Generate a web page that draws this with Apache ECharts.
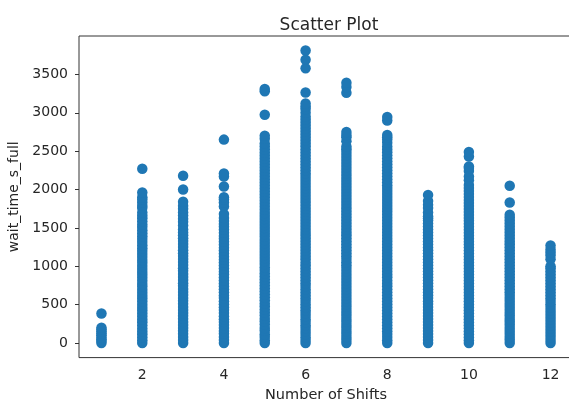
<!DOCTYPE html>
<html>
<head>
<meta charset="utf-8">
<script src="https://cdn.jsdelivr.net/npm/echarts@6/dist/echarts.min.js"></script>
<style>
  html, body { margin: 0; padding: 0; background: #fff; }
  #chart { width: 569px; height: 403px; }
</style>
</head>
<body>
<div id="chart"></div>
<script>
// Wait times (seconds) recorded for each number of shifts
const shiftCounts = [1, 2, 3, 4, 5, 6, 7, 8, 9, 10, 11, 12];
const shift1 = [0, 25, 50, 70, 100, 125, 150, 175, 200, 385];
const shift2 = [0, 35, 75, 115, 150, 190, 230, 270, 305, 345, 385, 425, 460, 500, 540, 580, 615, 655, 695, 735, 770, 810, 850, 890, 925, 965, 1005, 1045, 1080, 1120, 1160, 1200, 1235, 1275, 1315, 1355, 1390, 1430, 1470, 1510, 1545, 1585, 1625, 1660, 1700, 1760, 1790, 1830, 1870, 1900, 1960, 2270];
const shift3 = [0, 40, 80, 120, 160, 195, 235, 275, 315, 355, 390, 430, 470, 510, 550, 585, 625, 665, 705, 745, 780, 820, 860, 900, 940, 975, 1015, 1055, 1095, 1135, 1170, 1210, 1250, 1290, 1330, 1365, 1405, 1440, 1480, 1530, 1580, 1620, 1660, 1700, 1750, 1790, 1840, 2000, 2180];
const shift4 = [0, 40, 80, 120, 155, 195, 235, 275, 310, 350, 390, 430, 465, 505, 545, 585, 620, 660, 700, 740, 775, 815, 855, 895, 930, 970, 1010, 1050, 1085, 1125, 1165, 1205, 1240, 1280, 1320, 1360, 1395, 1435, 1475, 1515, 1550, 1590, 1630, 1680, 1780, 1830, 1870, 1900, 2040, 2170, 2210, 2650];
const shift5 = [0, 35, 80, 115, 160, 195, 240, 280, 315, 360, 398, 437, 478, 516, 556, 595, 634, 676, 713, 752, 793, 832, 871, 910, 950, 988, 1030, 1068, 1107, 1146, 1185, 1226, 1264, 1303, 1342, 1383, 1420, 1460, 1500, 1538, 1577, 1617, 1656, 1695, 1735, 1774, 1813, 1852, 1892, 1931, 1970, 2009, 2049, 2088, 2127, 2166, 2206, 2245, 2284, 2323, 2363, 2402, 2441, 2480, 2520, 2560, 2600, 2660, 2700, 2975, 3280, 3310];
const shift6 = [0, 38, 75, 118, 155, 196, 232, 274, 311, 352, 390, 428, 467, 505, 546, 583, 622, 661, 700, 742, 778, 817, 858, 895, 934, 973, 1012, 1050, 1091, 1128, 1167, 1206, 1245, 1284, 1322, 1361, 1400, 1438, 1477, 1516, 1555, 1594, 1632, 1671, 1710, 1748, 1787, 1826, 1864, 1903, 1942, 1981, 2020, 2058, 2097, 2136, 2175, 2213, 2252, 2291, 2330, 2368, 2407, 2446, 2485, 2523, 2562, 2601, 2640, 2678, 2717, 2756, 2795, 2834, 2872, 2911, 2950, 3000, 3050, 3080, 3120, 3265, 3580, 3690, 3810];
const shift7 = [0, 42, 78, 120, 157, 198, 236, 277, 314, 355, 393, 431, 471, 509, 548, 587, 625, 664, 703, 744, 781, 820, 860, 898, 937, 976, 1014, 1053, 1093, 1131, 1170, 1209, 1248, 1287, 1325, 1364, 1403, 1441, 1480, 1519, 1558, 1597, 1635, 1674, 1713, 1751, 1790, 1829, 1867, 1906, 1945, 1984, 2023, 2061, 2100, 2139, 2178, 2216, 2255, 2294, 2333, 2371, 2410, 2449, 2488, 2526, 2560, 2630, 2680, 2710, 2750, 3260, 3335, 3390];
const shift8 = [0, 37, 77, 116, 153, 194, 233, 272, 310, 350, 388, 427, 466, 504, 544, 582, 621, 660, 699, 739, 777, 816, 856, 894, 933, 972, 1011, 1049, 1089, 1127, 1166, 1205, 1244, 1283, 1321, 1360, 1399, 1437, 1476, 1515, 1554, 1593, 1631, 1670, 1709, 1747, 1786, 1825, 1863, 1902, 1941, 1980, 2019, 2057, 2096, 2135, 2174, 2212, 2251, 2290, 2329, 2367, 2406, 2445, 2484, 2522, 2560, 2610, 2650, 2680, 2710, 2900, 2945];
const shift9 = [0, 39, 79, 117, 156, 197, 234, 273, 313, 351, 391, 429, 468, 507, 545, 585, 623, 663, 701, 740, 780, 818, 857, 896, 935, 974, 1013, 1052, 1090, 1129, 1168, 1207, 1246, 1285, 1323, 1362, 1401, 1440, 1478, 1517, 1556, 1595, 1625, 1650, 1700, 1760, 1800, 1850, 1930];
const shift10 = [0, 36, 76, 114, 154, 193, 231, 271, 309, 349, 387, 426, 465, 503, 543, 581, 620, 659, 698, 737, 776, 815, 854, 893, 932, 971, 1010, 1048, 1088, 1126, 1165, 1204, 1243, 1282, 1320, 1359, 1398, 1436, 1475, 1514, 1553, 1592, 1630, 1669, 1708, 1746, 1785, 1824, 1862, 1901, 1940, 1980, 2020, 2060, 2120, 2170, 2240, 2280, 2300, 2430, 2490];
const shift11 = [0, 41, 78, 119, 158, 195, 237, 276, 312, 354, 392, 430, 470, 508, 547, 586, 624, 663, 702, 741, 779, 819, 857, 897, 936, 975, 1013, 1052, 1092, 1130, 1169, 1208, 1247, 1286, 1324, 1363, 1402, 1440, 1479, 1518, 1557, 1596, 1634, 1670, 1830, 2050];
const shift12 = [0, 38, 79, 117, 157, 195, 235, 273, 312, 352, 390, 429, 468, 506, 546, 584, 623, 662, 700, 740, 779, 818, 857, 896, 934, 973, 1000, 1090, 1140, 1180, 1220, 1270];

const xTickValues = [2, 4, 6, 8, 10, 12];
const yTickValues = [0, 500, 1000, 1500, 2000, 2500, 3000, 3500];

const waitsByShift = [shift1, shift2, shift3, shift4, shift5, shift6, shift7, shift8, shift9, shift10, shift11, shift12];
const points = [];
waitsByShift.forEach((waits, i) => {
  waits.forEach(w => points.push([shiftCounts[i], w]));
});

const textColor = '#262626';
const font = 'DejaVu Sans';

const chart = echarts.init(document.getElementById('chart'), null, { renderer: 'canvas' });
chart.setOption({
  animation: false,
  backgroundColor: '#fff',
  title: {
    text: 'Scatter Plot',
    left: 324,
    textAlign: 'center',
    top: 12,
    textStyle: { fontFamily: font, fontSize: 17, fontWeight: 'normal', color: textColor }
  },
  grid: {
    left: 79, top: 36, width: 494, height: 321.6,
    outerBoundsMode: 'none',
    show: true, borderColor: '#333', borderWidth: 1, backgroundColor: 'transparent',
    containLabel: false
  },
  xAxis: {
    type: 'value',
    min: 0.45, max: 12.55,
    name: 'Number of Shifts',
    nameLocation: 'middle',
    nameGap: 29,
    nameTextStyle: { fontFamily: font, fontSize: 14.5, color: textColor },
    axisLine: { show: false },
    splitLine: { show: false },
    axisTick: { show: true, length: 4, lineStyle: { color: '#333' }, customValues: xTickValues },
    axisLabel: { fontFamily: font, fontSize: 14, color: textColor, margin: 11, customValues: xTickValues }
  },
  yAxis: {
    type: 'value',
    min: -190, max: 4000,
    name: 'wait_time_s_full',
    nameLocation: 'middle',
    nameGap: 52,
    nameRotate: 90,
    nameTextStyle: { fontFamily: font, fontSize: 14, color: textColor },
    axisLine: { show: false },
    splitLine: { show: false },
    axisTick: { show: true, length: 4, lineStyle: { color: '#333' }, customValues: yTickValues },
    axisLabel: {
      fontFamily: font, fontSize: 14, color: textColor, margin: 11,
      customValues: yTickValues,
      formatter: v => String(v)
    }
  },
  series: [{
    type: 'scatter',
    data: points,
    symbol: 'circle',
    symbolSize: 10.5,
    itemStyle: { color: '#1f77b4', opacity: 1 }
  }]
});
</script>
</body>
</html>
